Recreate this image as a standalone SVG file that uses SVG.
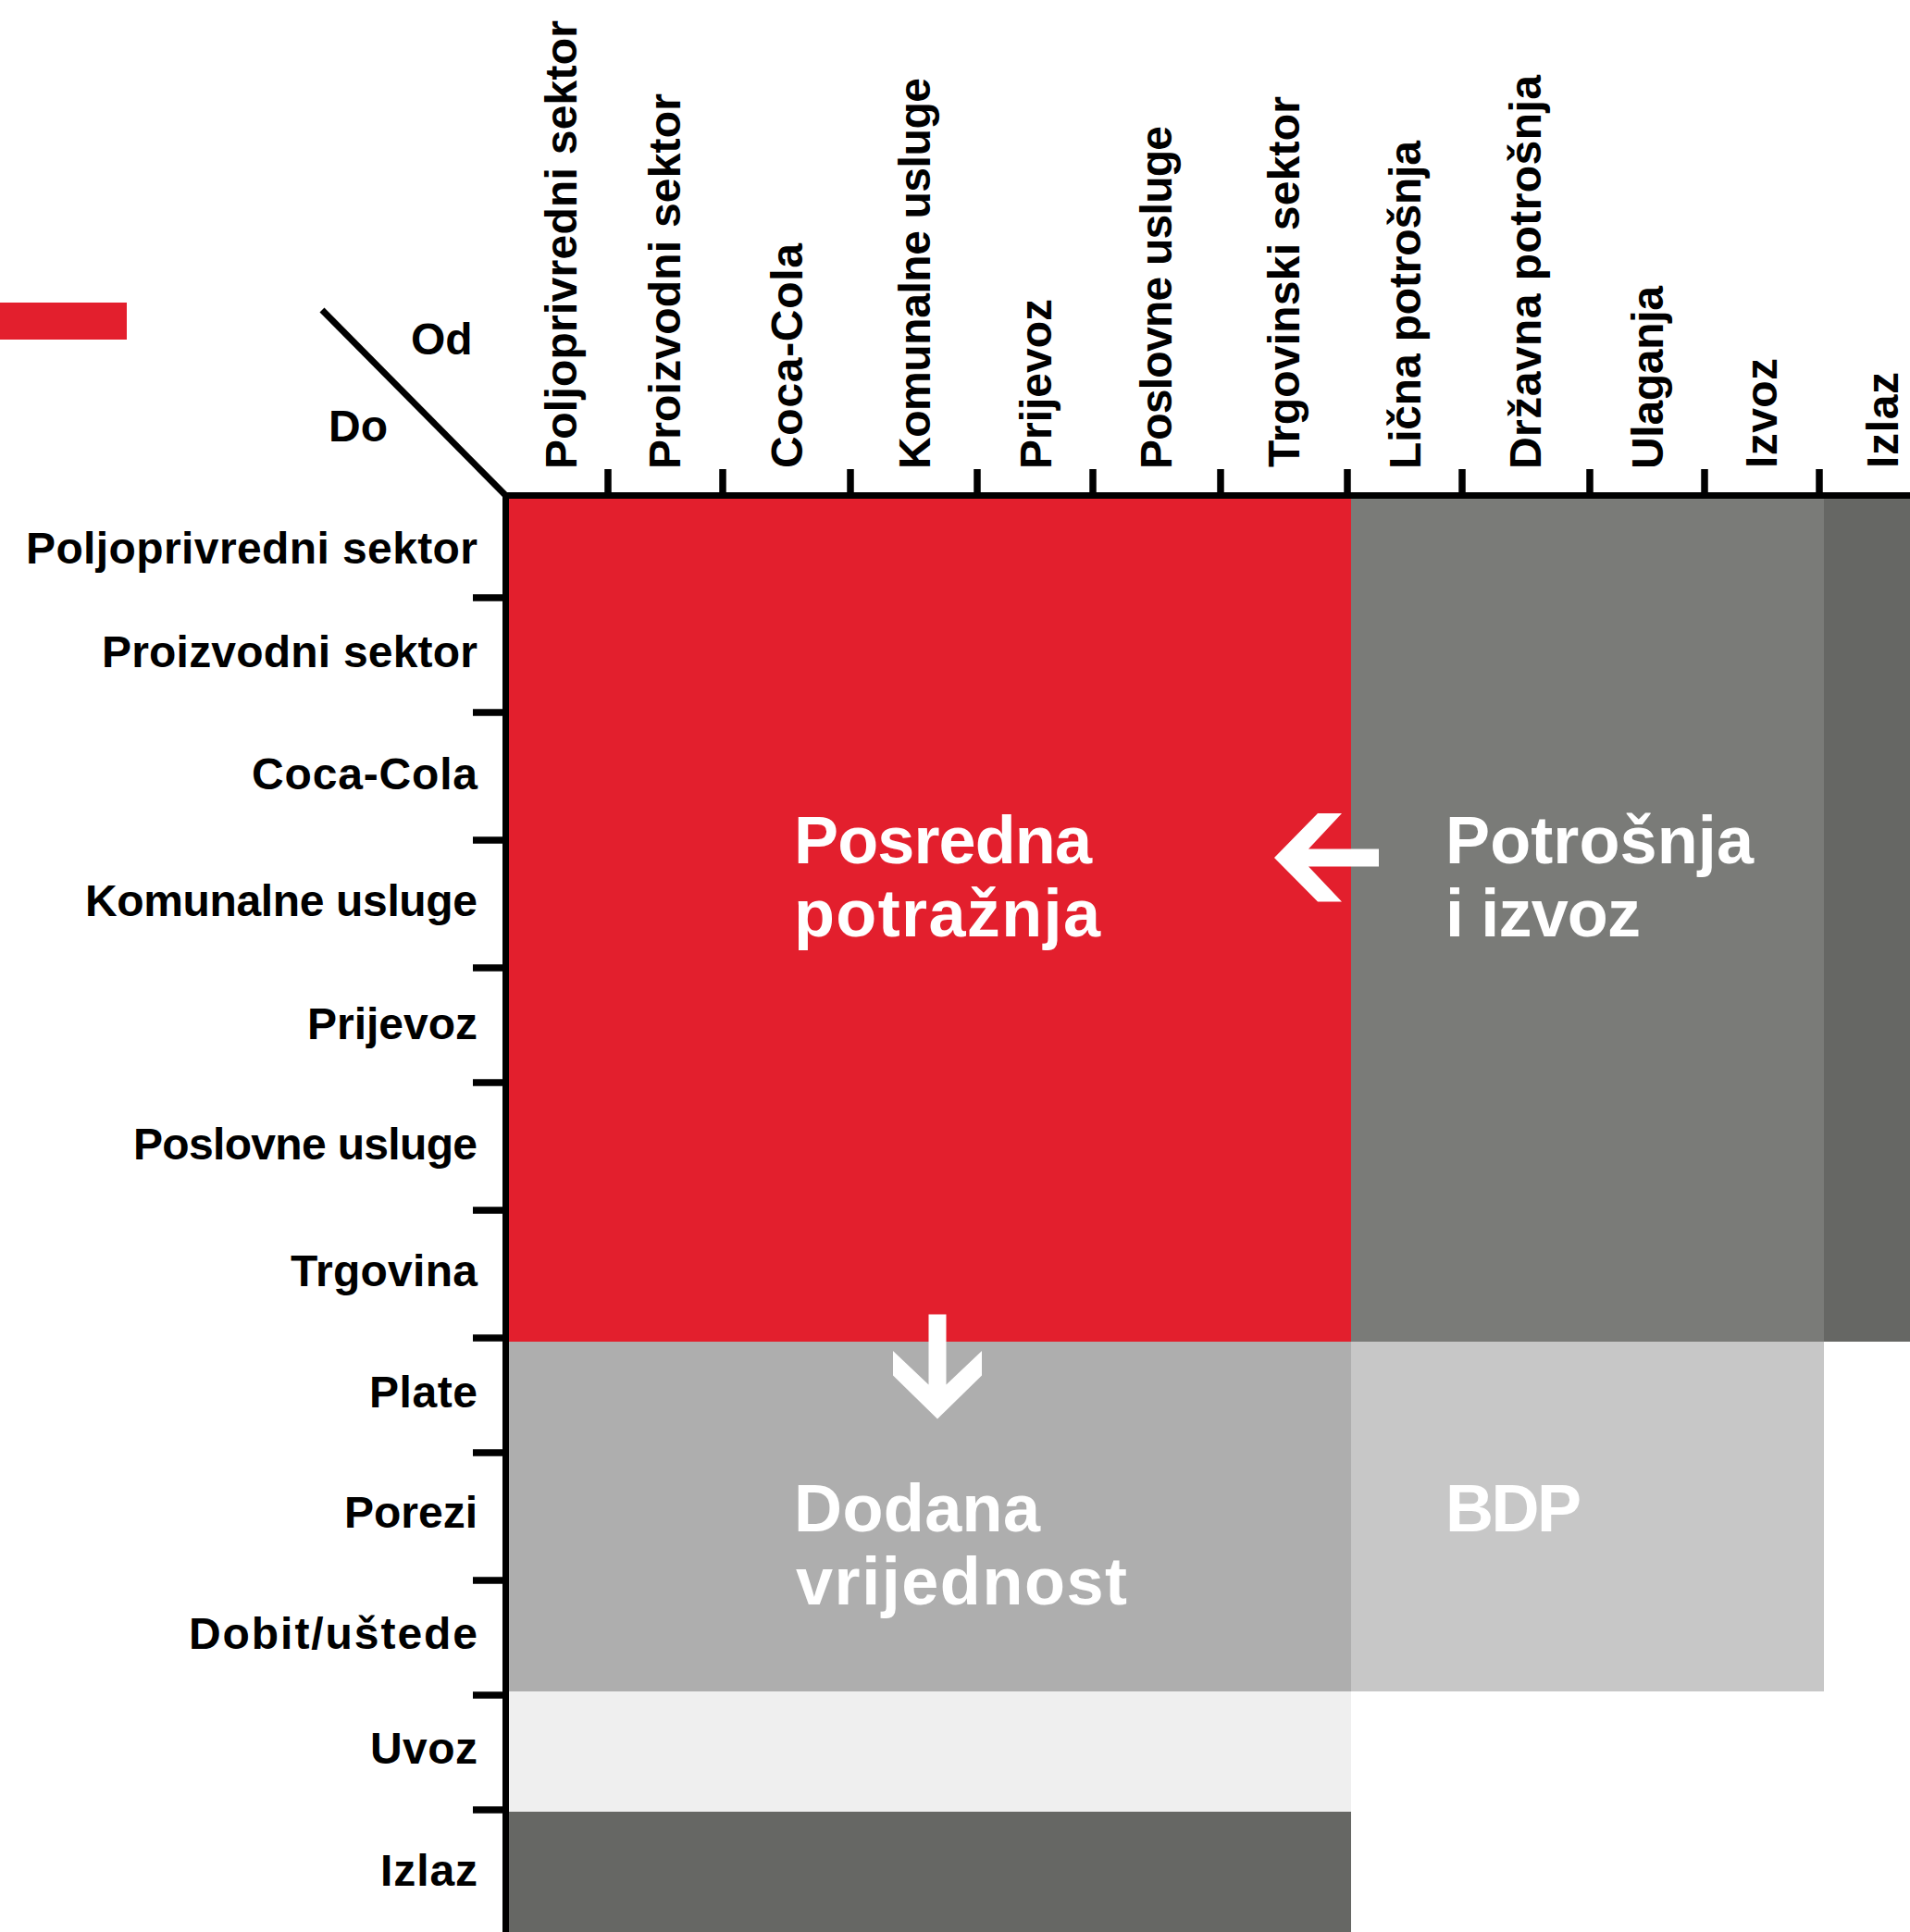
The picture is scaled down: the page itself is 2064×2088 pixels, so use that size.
<svg xmlns="http://www.w3.org/2000/svg" width="2064" height="2088" viewBox="0 0 2064 2088">
<style>
.lbl{font-family:"Liberation Sans",Arial,sans-serif;font-weight:bold;font-size:48px;fill:#000}
.row{text-anchor:end}
.big{font-family:"Liberation Sans",Arial,sans-serif;font-weight:bold;font-size:72px;fill:#fff}
.axis{stroke:#000;stroke-width:7;fill:none}
.tick{stroke:#000;stroke-width:7.5}
.arrow{fill:#fff}
</style>
<rect width="2064" height="2088" fill="#fff"/>
<rect id="legend-mark" x="0" y="327" width="137" height="40" fill="#e31f2d"/>

<g id="intermediate-demand">
  <rect x="546" y="535" width="914" height="915" fill="#e31f2d"/>
  <text class="big" x="858" y="932.5" textLength="322">Posredna</text>
  <text class="big" x="858" y="1012" textLength="331">potražnja</text>
</g>
<g id="consumption-export">
  <rect x="1460" y="535" width="511" height="915" fill="#7a7b78"/>
  <text class="big" x="1562" y="932.5" textLength="333">Potrošnja</text>
  <text class="big" x="1562" y="1012" textLength="211">i izvoz</text>
</g>
<g id="output-column">
  <rect x="1971" y="535" width="93" height="915" fill="#666764"/>
</g>
<g id="value-added">
  <rect x="546" y="1450" width="914" height="378" fill="#aeaeae"/>
  <text class="big" x="858" y="1655" textLength="266">Dodana</text>
  <text class="big" x="860" y="1734" textLength="358">vrijednost</text>
</g>
<g id="gdp">
  <rect x="1460" y="1450" width="511" height="378" fill="#c7c7c7"/>
  <text class="big" x="1562" y="1655" textLength="147">BDP</text>
</g>
<g id="imports-row">
  <rect x="546" y="1828" width="914" height="130" fill="#efefef"/>
</g>
<g id="output-row">
  <rect x="546" y="1958" width="914" height="130" fill="#666764"/>
</g>

<g id="axes">
  <path class="axis" stroke-width="6" d="M348,335 L546.5,535.5"/>
  <path class="axis" d="M543,535.5 H2064 M546.5,532 V2088"/>
  <g class="tick">
    <line x1="657" y1="507" x2="657" y2="535"/>
    <line x1="781" y1="507" x2="781" y2="535"/>
    <line x1="919" y1="507" x2="919" y2="535"/>
    <line x1="1056" y1="507" x2="1056" y2="535"/>
    <line x1="1181" y1="507" x2="1181" y2="535"/>
    <line x1="1319" y1="507" x2="1319" y2="535"/>
    <line x1="1456" y1="507" x2="1456" y2="535"/>
    <line x1="1580" y1="507" x2="1580" y2="535"/>
    <line x1="1718" y1="507" x2="1718" y2="535"/>
    <line x1="1842" y1="507" x2="1842" y2="535"/>
    <line x1="1966" y1="507" x2="1966" y2="535"/>
    <line x1="511" y1="646" x2="546" y2="646"/>
    <line x1="511" y1="770" x2="546" y2="770"/>
    <line x1="511" y1="908" x2="546" y2="908"/>
    <line x1="511" y1="1046" x2="546" y2="1046"/>
    <line x1="511" y1="1170" x2="546" y2="1170"/>
    <line x1="511" y1="1308" x2="546" y2="1308"/>
    <line x1="511" y1="1446" x2="546" y2="1446"/>
    <line x1="511" y1="1570" x2="546" y2="1570"/>
    <line x1="511" y1="1708" x2="546" y2="1708"/>
    <line x1="511" y1="1832" x2="546" y2="1832"/>
    <line x1="511" y1="1956" x2="546" y2="1956"/>
  </g>
</g>

<g id="corner-labels">
  <text class="lbl" x="444" y="383" font-size="47">Od</text>
  <text class="lbl" x="355" y="477" font-size="47">Do</text>
</g>

<g id="column-labels" class="lbl">
  <text transform="translate(623,507) rotate(-90)" textLength="485">Poljoprivredni sektor</text>
  <text transform="translate(735,507) rotate(-90)" textLength="406">Proizvodni sektor</text>
  <text transform="translate(867,506) rotate(-90)" textLength="243">Coca-Cola</text>
  <text transform="translate(1005,507) rotate(-90)" textLength="423">Komunalne usluge</text>
  <text transform="translate(1136,507) rotate(-90)" textLength="184">Prijevoz</text>
  <text transform="translate(1266,507) rotate(-90)" textLength="371">Poslovne usluge</text>
  <text transform="translate(1404,505) rotate(-90)" textLength="401">Trgovinski sektor</text>
  <text transform="translate(1535,507) rotate(-90)" textLength="355">Lična potrošnja</text>
  <text transform="translate(1665,507) rotate(-90)" textLength="426">Državna potrošnja</text>
  <text transform="translate(1797,507) rotate(-90)" textLength="198">Ulaganja</text>
  <text transform="translate(1920,506) rotate(-90)" textLength="119">Izvoz</text>
  <text transform="translate(2051,506) rotate(-90)" textLength="104">Izlaz</text>
</g>

<g id="row-labels" class="lbl row">
  <text x="516" y="609" textLength="488">Poljoprivredni sektor</text>
  <text x="516" y="721" textLength="406">Proizvodni sektor</text>
  <text x="516" y="853" textLength="244">Coca-Cola</text>
  <text x="516" y="990" textLength="424">Komunalne usluge</text>
  <text x="516" y="1123" textLength="184">Prijevoz</text>
  <text x="516" y="1253" textLength="372">Poslovne usluge</text>
  <text x="516" y="1390" textLength="202">Trgovina</text>
  <text x="516" y="1521" textLength="117">Plate</text>
  <text x="516" y="1651" textLength="144">Porezi</text>
  <text x="516" y="1782" textLength="312">Dobit/uštede</text>
  <text x="516" y="1906" textLength="116">Uvoz</text>
  <text x="516" y="2038" textLength="105">Izlaz</text>
</g>

<g id="connectors">
  <polygon class="arrow" points="1377,927 1424,879 1450,879 1414,917.5 1490,917.5 1490,936.5 1414,936.5 1450,974.5 1424,974.5"/>
  <polygon class="arrow" points="1013,1533.5 965,1486.5 965,1460 1003.5,1496.5 1003.5,1420.5 1022.5,1420.5 1022.5,1496.5 1061,1460 1061,1486.5"/>
</g>
</svg>
